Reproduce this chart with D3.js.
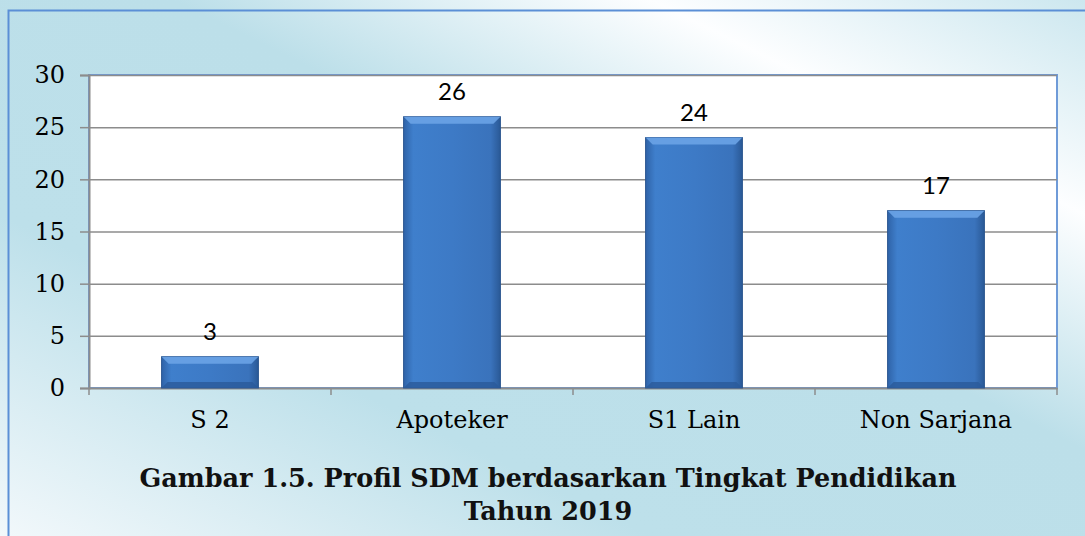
<!DOCTYPE html>
<html>
<head>
<meta charset="utf-8">
<script src="https://cdn.jsdelivr.net/npm/d3@7"></script>
<style>
  body { margin: 0; overflow: hidden; }
</style>
</head>
<body>
<div id="chart"></div>
<script>
var categories = ["S 2", "Apoteker", "S1 Lain", "Non Sarjana"];
var values = [3, 26, 24, 17];
var yTicks = [0, 5, 10, 15, 20, 25, 30];
var titleLines = ["Gambar 1.5. Profil SDM berdasarkan Tingkat Pendidikan", "Tahun 2019"];

var svgWidth = 1085;
var svgHeight = 536;
var margin = { top: 75, right: 28, bottom: 148, left: 89 };
var width = svgWidth - margin.left - margin.right;
var height = svgHeight - margin.top - margin.bottom;

var svg = d3.select("#chart")
    .append("svg")
    .attr("width", svgWidth)
    .attr("height", svgHeight);

var defs = svg.append("defs");

// background gradient
var bg = defs.append("linearGradient")
    .attr("id", "bg")
    .attr("x1", "0%").attr("y1", "100%")
    .attr("x2", "100%").attr("y2", "0%");
bg.append("stop").attr("offset", "0%").attr("stop-color", "#f2f8fb");
bg.append("stop").attr("offset", "30%").attr("stop-color", "#bde0ea");
bg.append("stop").attr("offset", "58%").attr("stop-color", "#bcdfe9");
bg.append("stop").attr("offset", "80%").attr("stop-color", "#fdfeff");
bg.append("stop").attr("offset", "100%").attr("stop-color", "#cce7ef");

// bar gradient (horizontal)
var barGrad = defs.append("linearGradient")
    .attr("id", "barGrad")
    .attr("x1", "0%").attr("y1", "0%")
    .attr("x2", "100%").attr("y2", "0%");
barGrad.append("stop").attr("offset", "0%").attr("stop-color", "#2f63a8");
barGrad.append("stop").attr("offset", "10%").attr("stop-color", "#3f7fcc");
barGrad.append("stop").attr("offset", "50%").attr("stop-color", "#3d7ac6");
barGrad.append("stop").attr("offset", "90%").attr("stop-color", "#3a73bc");
barGrad.append("stop").attr("offset", "100%").attr("stop-color", "#2a5996");

svg.append("rect")
    .attr("width", svgWidth)
    .attr("height", svgHeight)
    .attr("fill", "url(#bg)");

// outer frame
svg.append("rect")
    .attr("x", 8.5).attr("y", 10.5)
    .attr("width", svgWidth + 20)
    .attr("height", svgHeight + 20)
    .attr("fill", "none")
    .attr("stroke", "#5b8fd6")
    .attr("stroke-width", 2);

var chartGroup = svg.append("g")
    .attr("transform", `translate(${margin.left}, ${margin.top})`);

var xScale = d3.scaleBand()
    .domain(categories)
    .range([0, width])
    .paddingInner(0.6)
    .paddingOuter(0.3);

var yScale = d3.scaleLinear()
    .domain([0, 30])
    .range([height, 0]);

// plot area
chartGroup.append("rect")
    .attr("width", width)
    .attr("height", height)
    .attr("fill", "#ffffff")
    .attr("stroke", "#6f9bd8")
    .attr("stroke-width", 2);

// gridlines
chartGroup.selectAll(".grid")
    .data(yTicks.slice(1))
    .enter()
    .append("line")
    .attr("x1", 0)
    .attr("x2", width)
    .attr("y1", d => yScale(d) + 0.5)
    .attr("y2", d => yScale(d) + 0.5)
    .attr("stroke", "#8c8c8c")
    .attr("stroke-width", 1.5);

// y axis
var leftAxis = d3.axisLeft(yScale)
    .tickValues(yTicks)
    .tickSize(9)
    .tickPadding(15);

var yAxis = chartGroup.append("g").call(leftAxis);
yAxis.select(".domain").attr("stroke", "#8c8c8c").attr("stroke-width", 2);
yAxis.selectAll(".tick line").attr("stroke", "#8c8c8c").attr("stroke-width", 1.5);
yAxis.selectAll("text")
    .style("font-family", "'DejaVu Serif', serif")
    .style("font-size", "24px")
    .attr("fill", "#000");

// x axis
var bandStep = width / categories.length;
var bottomAxis = d3.axisBottom(xScale).tickSize(0).tickPadding(23);
var xAxis = chartGroup.append("g")
    .attr("transform", `translate(0, ${height})`)
    .call(bottomAxis);
xAxis.select(".domain").attr("stroke", "#8c8c8c").attr("stroke-width", 2);
xAxis.selectAll("text")
    .style("font-family", "'DejaVu Serif', serif")
    .style("font-size", "24px")
    .attr("fill", "#000");

// x tick marks at category boundaries
chartGroup.selectAll(".xtick")
    .data(d3.range(categories.length + 1))
    .enter()
    .append("line")
    .attr("x1", i => i * bandStep)
    .attr("x2", i => i * bandStep)
    .attr("y1", height)
    .attr("y2", height + 7)
    .attr("stroke", "#8c8c8c")
    .attr("stroke-width", 1.5);

// bars
var bars = chartGroup.selectAll(".bar")
    .data(values)
    .enter()
    .append("g")
    .attr("class", "bar");

bars.append("rect")
    .attr("x", (d, i) => xScale(categories[i]))
    .attr("y", d => yScale(d))
    .attr("width", xScale.bandwidth())
    .attr("height", d => height - yScale(d))
    .attr("fill", "url(#barGrad)")
    .attr("stroke", "#2b5690")
    .attr("stroke-width", 1);

// bevel top highlight
bars.append("path")
    .attr("d", function (d, i) {
        var x0 = xScale(categories[i]);
        var x1 = x0 + xScale.bandwidth();
        var y0 = yScale(d);
        var b = 7;
        return `M${x0},${y0} L${x1},${y0} L${x1 - b},${y0 + b} L${x0 + b},${y0 + b} Z`;
    })
    .attr("fill", "#6aa3e6")
    .attr("opacity", 0.9);

// bevel bottom shade
bars.append("path")
    .attr("d", function (d, i) {
        var x0 = xScale(categories[i]);
        var x1 = x0 + xScale.bandwidth();
        var y1 = height;
        var b = 6;
        return `M${x0},${y1} L${x1},${y1} L${x1 - b},${y1 - b} L${x0 + b},${y1 - b} Z`;
    })
    .attr("fill", "#2a5a9a")
    .attr("opacity", 0.8);

// data labels
chartGroup.selectAll(".valueText")
    .data(values)
    .enter()
    .append("text")
    .attr("class", "valueText")
    .attr("x", (d, i) => xScale(categories[i]) + xScale.bandwidth() / 2)
    .attr("y", d => yScale(d) - 17)
    .attr("text-anchor", "middle")
    .style("font-family", "Lato, 'Liberation Sans', sans-serif")
    .style("font-size", "24px")
    .attr("fill", "#000")
    .text(d => d);

// title
svg.selectAll(".title")
    .data(titleLines)
    .enter()
    .append("text")
    .attr("class", "title")
    .attr("x", 548)
    .attr("y", (d, i) => 487 + i * 33)
    .attr("text-anchor", "middle")
    .style("font-family", "'DejaVu Serif', serif")
    .style("font-weight", "bold")
    .style("font-size", "25.5px")
    .attr("fill", "#111")
    .text(d => d);
</script>
</body>
</html>
